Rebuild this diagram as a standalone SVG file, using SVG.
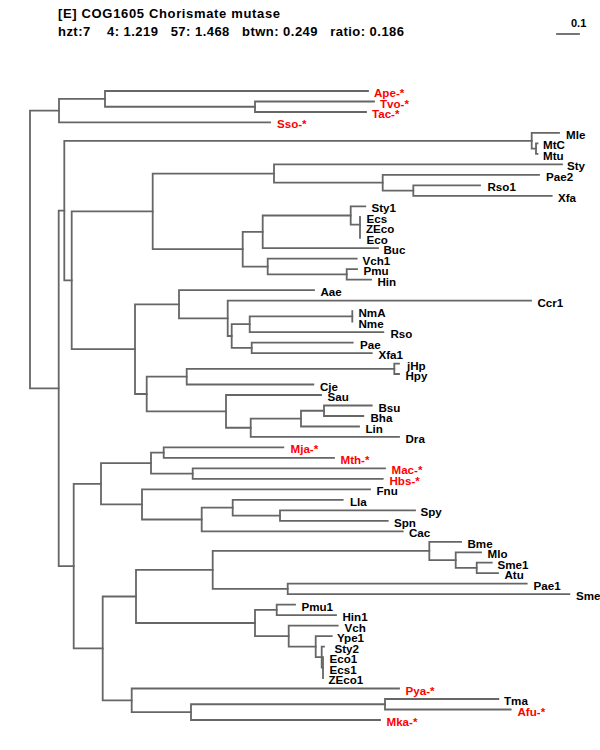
<svg xmlns="http://www.w3.org/2000/svg" width="600" height="750" viewBox="0 0 600 750">
<style>
.t{font-family:"Liberation Sans",Arial,sans-serif;font-weight:bold;font-size:13px;fill:#000}
.l{font-family:"Liberation Sans",Arial,sans-serif;font-weight:bold;font-size:11.6px;fill:#000}
.r{fill:#ff0000}
.b{fill:none;stroke:#666;stroke-width:1.8;stroke-linecap:square}
</style>
<rect width="600" height="750" fill="#fff"/>
<g id="header">
<text class="t" x="58" y="18" textLength="222" lengthAdjust="spacing">[E] COG1605 Chorismate mutase</text>
<text class="t" x="58" y="36" textLength="346" lengthAdjust="spacing" xml:space="preserve">hzt:7    4: 1.219   57: 1.468   btwn: 0.249   ratio: 0.186</text>
</g>
<g id="scalebar">
<path class="b" d="M557,34H579"/>
<text class="l" x="571" y="27" style="font-size:11px">0.1</text>
</g>
<g id="branches">
<path class="b" d="M30,110.65V388.3M30,110.65H59M30,388.3H58.7"/>
<path class="b" d="M59,98.9V122.4M59,98.9H105M59,122.4H270"/>
<path class="b" d="M105,91V106.75M105,91H368M105,106.75H255"/>
<path class="b" d="M255,101.5V112M255,101.5H374M255,112H366"/>
<path class="b" d="M58.7,210.55V566.1M58.7,210.55H64.3M58.7,566.1H73.7"/>
<path class="b" d="M64.3,140.8V280.3M64.3,140.8H531.7M64.3,280.3H71.7"/>
<path class="b" d="M531.7,132.9V148.65M531.7,132.9H559M531.7,148.65H536"/>
<path class="b" d="M536,143.4V153.9M536,143.4H537.5M536,153.9H537.5"/>
<path class="b" d="M71.7,211.4V349.15M71.7,211.4H152.7M71.7,349.15H135"/>
<path class="b" d="M152.7,173.6V249.2M152.7,173.6H274M152.7,249.2H242.7"/>
<path class="b" d="M274,164.4V182.7M274,164.4H562M274,182.7H382.7"/>
<path class="b" d="M382.7,174.9V190.55M382.7,174.9H539M382.7,190.55H413.3"/>
<path class="b" d="M413.3,185.3V195.8M413.3,185.3H480M413.3,195.8H551.7"/>
<path class="b" d="M242.7,231.85V266.6M242.7,231.85H262.7M242.7,266.6H267.7"/>
<path class="b" d="M262.7,215.5V248.2M262.7,215.5H350.7M262.7,248.2H378"/>
<path class="b" d="M350.7,206.3V224.7M350.7,206.3H365.3M350.7,224.7H360"/>
<path class="b" d="M360,216.8V232.55M360,227.3V237.8"/>
<path class="b" d="M267.7,258.7V274.45M267.7,258.7H356.7M267.7,274.45H346.7"/>
<path class="b" d="M346.7,269.2V279.7M346.7,269.2H357M346.7,279.7H371"/>
<path class="b" d="M135,304.3V394M135,304.3H179M135,394H146.7"/>
<path class="b" d="M179,290.2V318.35M179,290.2H314M179,318.35H227.7"/>
<path class="b" d="M227.7,300.7V336M227.7,300.7H531M227.7,336H231.7"/>
<path class="b" d="M231.7,324.2V347.85M231.7,324.2H249.7M231.7,347.85H251.7"/>
<path class="b" d="M249.7,316.35V332.1M249.7,316.35H352.3M249.7,332.1H383.3"/>
<path class="b" d="M352.3,311.1V321.6"/>
<path class="b" d="M251.7,342.6V353.1M251.7,342.6H352.7M251.7,353.1H371.7"/>
<path class="b" d="M146.7,376.65V411.4M146.7,376.65H186.7M146.7,411.4H226"/>
<path class="b" d="M186.7,368.8V384.5M186.7,368.8H394.3M186.7,384.5H313.3"/>
<path class="b" d="M394.3,363.6V374M394.3,363.6H399M394.3,374H399"/>
<path class="b" d="M226,395V427.75M226,395H321M226,427.75H250.7"/>
<path class="b" d="M250.7,418.6V436.9M250.7,418.6H301M250.7,436.9H399"/>
<path class="b" d="M301,410.75V426.5M301,410.75H324M301,426.5H359"/>
<path class="b" d="M324,405.5V416M324,405.5H371.7M324,416H363.3"/>
<path class="b" d="M73.7,483.8V648.4M73.7,483.8H101M73.7,648.4H102.7"/>
<path class="b" d="M101,463.15V504.45M101,463.15H151M101,504.45H142"/>
<path class="b" d="M151,452.65V473.65M151,452.65H163.7M151,473.65H192.7"/>
<path class="b" d="M163.7,447.4V457.9M163.7,447.4H283.3M163.7,457.9H334"/>
<path class="b" d="M192.7,468.4V478.9M192.7,468.4H385M192.7,478.9H382.7"/>
<path class="b" d="M142,489.4V519.5M142,489.4H370M142,519.5H201.7"/>
<path class="b" d="M201.7,507.7V531.3M201.7,507.7H232.7M201.7,531.3H402.7"/>
<path class="b" d="M232.7,499.8V515.55M232.7,499.8H342.7M232.7,515.55H280"/>
<path class="b" d="M280,510.3V520.8M280,510.3H415M280,520.8H387.7"/>
<path class="b" d="M102.7,596.5V700.3M102.7,596.5H136M102.7,700.3H131.7"/>
<path class="b" d="M136,569.95V623M136,569.95H212.7M136,623H255"/>
<path class="b" d="M212.7,550.95V588.95M212.7,550.95H429.3M212.7,588.95H287.7"/>
<path class="b" d="M429.3,541.8V560.1M429.3,541.8H461M429.3,560.1H455.7"/>
<path class="b" d="M455.7,552.3V567.95M455.7,552.3H481M455.7,567.95H476.7"/>
<path class="b" d="M476.7,562.7V573.2M476.7,562.7H491.7M476.7,573.2H498"/>
<path class="b" d="M287.7,583.7V594.2M287.7,583.7H526.7M287.7,594.2H569.3"/>
<path class="b" d="M255,609.95V636.1M255,609.95H276.7M255,636.1H288.7"/>
<path class="b" d="M276.7,604.7V615.2M276.7,604.7H295M276.7,615.2H336"/>
<path class="b" d="M288.7,625.6V646.6M288.7,625.6H337.7M288.7,646.6H315.7"/>
<path class="b" d="M315.7,636.1V657.1M315.7,636.1H331.7M315.7,657.1H321.7"/>
<path class="b" d="M321.7,646.6V667.6M321.7,646.6H324M321.7,667.6H323"/>
<path class="b" d="M323,657.1V678.1"/>
<path class="b" d="M131.7,688.5V712.1M131.7,688.5H399M131.7,712.1H191"/>
<path class="b" d="M191,704.25V720M191,704.25H385M191,720H380"/>
<path class="b" d="M385,699V709.5M385,699H498.3M385,709.5H510.7"/>
</g>
<g id="leaves">
<g id="n-Ape"><text class="l r" x="374" y="97">Ape-*</text></g>
<g id="n-Tvo"><text class="l r" x="380" y="107.5">Tvo-*</text></g>
<g id="n-Tac"><text class="l r" x="372" y="118">Tac-*</text></g>
<g id="n-Sso"><text class="l r" x="277" y="128.4">Sso-*</text></g>
<g id="n-Mle"><text class="l" x="566" y="138.9">Mle</text></g>
<g id="n-MtC"><text class="l" x="543" y="149.4">MtC</text></g>
<g id="n-Mtu"><text class="l" x="543" y="159.9">Mtu</text></g>
<g id="n-Sty"><text class="l" x="567" y="170.4">Sty</text></g>
<g id="n-Pae2"><text class="l" x="546" y="180.9">Pae2</text></g>
<g id="n-Rso1"><text class="l" x="487.5" y="191.3">Rso1</text></g>
<g id="n-Xfa"><text class="l" x="558" y="201.8">Xfa</text></g>
<g id="n-Sty1"><text class="l" x="371.5" y="212.3">Sty1</text></g>
<g id="n-Ecs"><text class="l" x="366.5" y="222.8">Ecs</text></g>
<g id="n-ZEco"><text class="l" x="366" y="233.3">ZEco</text></g>
<g id="n-Eco"><text class="l" x="366.5" y="243.8">Eco</text></g>
<g id="n-Buc"><text class="l" x="383.5" y="254.2">Buc</text></g>
<g id="n-Vch1"><text class="l" x="362.5" y="264.7">Vch1</text></g>
<g id="n-Pmu"><text class="l" x="363.5" y="275.2">Pmu</text></g>
<g id="n-Hin"><text class="l" x="377.5" y="285.7">Hin</text></g>
<g id="n-Aae"><text class="l" x="320.5" y="296.2">Aae</text></g>
<g id="n-Ccr1"><text class="l" x="537.5" y="306.7">Ccr1</text></g>
<g id="n-NmA"><text class="l" x="358.5" y="317.1">NmA</text></g>
<g id="n-Nme"><text class="l" x="358.5" y="327.6">Nme</text></g>
<g id="n-Rso"><text class="l" x="390.5" y="338.1">Rso</text></g>
<g id="n-Pae"><text class="l" x="360" y="348.6">Pae</text></g>
<g id="n-Xfa1"><text class="l" x="378.5" y="359.1">Xfa1</text></g>
<g id="n-jHp"><text class="l" x="407" y="369.6">jHp</text></g>
<g id="n-Hpy"><text class="l" x="405.5" y="380">Hpy</text></g>
<g id="n-Cje"><text class="l" x="320" y="390.5">Cje</text></g>
<g id="n-Sau"><text class="l" x="327.5" y="401">Sau</text></g>
<g id="n-Bsu"><text class="l" x="378.5" y="411.5">Bsu</text></g>
<g id="n-Bha"><text class="l" x="370.5" y="422">Bha</text></g>
<g id="n-Lin"><text class="l" x="365.5" y="432.5">Lin</text></g>
<g id="n-Dra"><text class="l" x="405.5" y="442.9">Dra</text></g>
<g id="n-Mja"><text class="l r" x="290.5" y="453.4">Mja-*</text></g>
<g id="n-Mth"><text class="l r" x="340.5" y="463.9">Mth-*</text></g>
<g id="n-Mac"><text class="l r" x="391.5" y="474.4">Mac-*</text></g>
<g id="n-Hbs"><text class="l r" x="389.5" y="484.9">Hbs-*</text></g>
<g id="n-Fnu"><text class="l" x="376.5" y="495.4">Fnu</text></g>
<g id="n-Lla"><text class="l" x="350" y="505.8">Lla</text></g>
<g id="n-Spy"><text class="l" x="420.5" y="516.3">Spy</text></g>
<g id="n-Spn"><text class="l" x="394" y="526.8">Spn</text></g>
<g id="n-Cac"><text class="l" x="409" y="537.3">Cac</text></g>
<g id="n-Bme"><text class="l" x="467.5" y="547.8">Bme</text></g>
<g id="n-Mlo"><text class="l" x="487.5" y="558.3">Mlo</text></g>
<g id="n-Sme1"><text class="l" x="497.5" y="568.7">Sme1</text></g>
<g id="n-Atu"><text class="l" x="504.5" y="579.2">Atu</text></g>
<g id="n-Pae1"><text class="l" x="533.5" y="589.7">Pae1</text></g>
<g id="n-Sme"><text class="l" x="576" y="600.2">Sme</text></g>
<g id="n-Pmu1"><text class="l" x="301.5" y="610.7">Pmu1</text></g>
<g id="n-Hin1"><text class="l" x="342.5" y="621.2">Hin1</text></g>
<g id="n-Vch"><text class="l" x="344.5" y="631.6">Vch</text></g>
<g id="n-Ype1"><text class="l" x="337" y="642.1">Ype1</text></g>
<g id="n-Sty2"><text class="l" x="334.5" y="652.6">Sty2</text></g>
<g id="n-Eco1"><text class="l" x="329.5" y="663.1">Eco1</text></g>
<g id="n-Ecs1"><text class="l" x="329.5" y="673.6">Ecs1</text></g>
<g id="n-ZEco1"><text class="l" x="328.5" y="684.1">ZEco1</text></g>
<g id="n-Pya"><text class="l r" x="405.5" y="694.5">Pya-*</text></g>
<g id="n-Tma"><text class="l" x="504" y="705">Tma</text></g>
<g id="n-Afu"><text class="l r" x="517.5" y="715.5">Afu-*</text></g>
<g id="n-Mka"><text class="l r" x="386.5" y="726">Mka-*</text></g>
</g>
</svg>
